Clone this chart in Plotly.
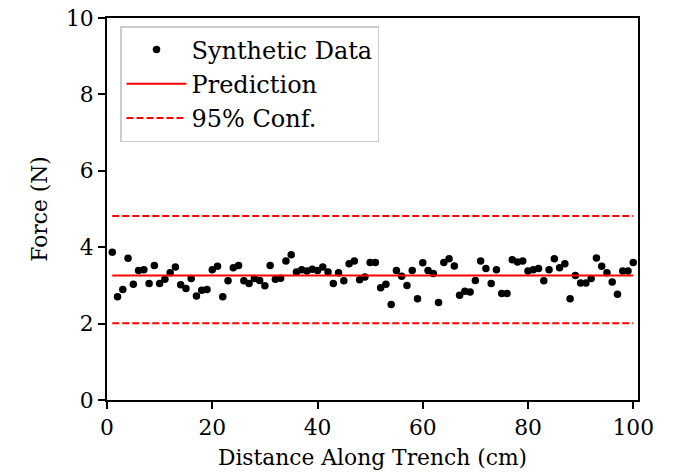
import plotly.graph_objects as go

distance = list(range(1, 101))
force = [3.87, 2.70, 2.89, 3.71, 3.03, 3.39, 3.41, 3.05, 3.52, 3.05,
         3.16, 3.33, 3.48, 3.02, 2.92, 3.18, 2.72, 2.87, 2.89, 3.41,
         3.50, 2.70, 3.12, 3.46, 3.52, 3.12, 3.05, 3.18, 3.13, 2.99,
         3.52, 3.16, 3.19, 3.64, 3.80, 3.35, 3.41, 3.38, 3.42, 3.39,
         3.48, 3.35, 3.05, 3.33, 3.12, 3.57, 3.64, 3.15, 3.22, 3.60,
         3.60, 2.94, 3.03, 2.50, 3.39, 3.24, 3.00, 3.39, 2.65, 3.59,
         3.39, 3.31, 2.55, 3.60, 3.70, 3.51, 2.74, 2.85, 2.83, 3.13,
         3.64, 3.44, 3.05, 3.41, 2.79, 2.79, 3.67, 3.61, 3.64, 3.38,
         3.41, 3.44, 3.12, 3.41, 3.70, 3.46, 3.57, 2.65, 3.26, 3.06,
         3.06, 3.18, 3.72, 3.50, 3.33, 3.09, 2.77, 3.38, 3.38, 3.60]
prediction = 3.26
conf_upper = 4.82
conf_lower = 2.01

x_ends = [distance[0], distance[-1]]
FONT = "DejaVu Serif"
FS = 21.8
LEG_FS = 24

fig = go.Figure()
fig.add_trace(go.Scatter(x=distance, y=force, mode="markers", name="Synthetic Data",
                         marker=dict(color="black", size=7.5)))
fig.add_trace(go.Scatter(x=x_ends, y=[prediction] * 2, mode="lines", name="Prediction",
                         line=dict(color="red", width=2)))
fig.add_trace(go.Scatter(x=x_ends, y=[conf_upper] * 2, mode="lines", name="95% Conf.",
                         line=dict(color="red", width=2, dash="7px,3px")))
fig.add_trace(go.Scatter(x=x_ends, y=[conf_lower] * 2, mode="lines", name="95% Conf.",
                         showlegend=False,
                         line=dict(color="red", width=2, dash="7px,3px")))

axis_common = dict(showline=True, linecolor="black", linewidth=1.8, mirror=True,
                   ticks="outside", ticklen=7, tickwidth=1.6, tickcolor="black",
                   showgrid=False, zeroline=False, automargin=False,
                   ticklabeloverflow="allow",
                   tickfont=dict(family=FONT, size=FS, color="black"))

fig.update_layout(
    width=677, height=473,
    margin=dict(l=107, r=39, t=18, b=73, autoexpand=False),
    paper_bgcolor="white", plot_bgcolor="white",
    font=dict(family=FONT, size=FS, color="black"),
    xaxis=dict(range=[0, 100.9], tickvals=[0, 20, 40, 60, 80, 100],
               title=dict(text="Distance Along Trench (cm)", standoff=11,
                          font=dict(family=FONT, size=FS)), **axis_common),
    yaxis=dict(range=[0, 10], tickvals=[0, 2, 4, 6, 8, 10],
               title=dict(text="Force (N)", standoff=12,
                          font=dict(family=FONT, size=FS)), **axis_common),
    legend=dict(x=0.0245, y=0.979, xanchor="left", yanchor="top",
                bgcolor="rgba(255,255,255,0.8)", bordercolor="#cccccc", borderwidth=1.5,
                font=dict(family=FONT, size=LEG_FS), itemwidth=60, tracegroupgap=0),
    showlegend=True,
)

fig.write_html("out.html", config={"displayModeBar": False},
               post_script="document.body.style.margin='0';document.body.style.overflow='hidden';")
